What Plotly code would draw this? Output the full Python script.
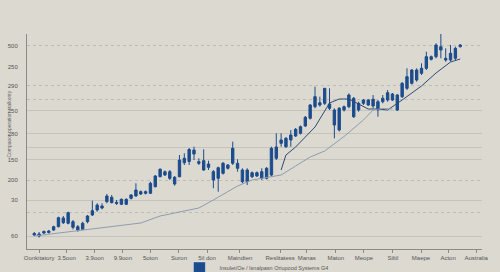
import plotly.graph_objects as go

# ---- data ----
opens = [14, 15, 16, 16.5, 19, 22.3, 31, 25.7, 27.3, 22.3, 19.7, 27.3, 34, 39, 43, 47.3, 51.7, 46.7, 44.7, 44.7,
         50.7, 53, 57.3, 55.7, 55.7, 62.3, 72.3, 77.3, 77.3, 71.7, 72.3, 86.3, 87.5, 99, 87.3, 88.3, 81.7, 77.3, 70.7, 75.7,
         84, 85.7, 85.7, 79, 67.3, 76.3, 73, 77.3, 70.7, 74, 90.7, 105.7, 110.7, 109, 113, 115.7, 123, 130.7, 142.3, 146.3,
         145.7, 145, 139, 119, 139, 142.3, 150.7, 139, 145.7, 149, 143, 147.3, 147.3, 149, 155, 154, 152.3, 160.7, 165.7, 169,
         175.7, 180.7, 192.3, 192.3, 202.3, 190.7, 189, 190.7, 202.3]
closes = [15.5, 13, 17.5, 18, 22.3, 31.3, 26.3, 36.3, 21.7, 19, 25.7, 33, 38.3, 44, 41, 53, 46.3, 45.7, 49.7, 49.7,
          54, 59, 55, 57.3, 65.7, 73, 79.7, 74, 70.7, 65, 89, 90.7, 99.5, 95, 85.7, 79, 85, 69, 81.3, 85.7,
          80.7, 100.7, 80.7, 67.3, 79, 72.3, 76.3, 70.7, 80.7, 100.7, 102, 109, 102.3, 114, 119.7, 122.3, 131.7, 144, 152.3, 144,
          160.7, 140.7, 124, 140.7, 142.3, 154, 132.3, 145.7, 149, 144, 149.7, 139, 150.7, 156.3, 149, 139, 165.7, 172.3, 179, 179,
          180.7, 192.3, 189.7, 204, 199, 189, 195.7, 200.7, 204]
highs = [17, 17, 18.5, 19, 23.3, 32.3, 33, 37.3, 29, 24, 27.3, 34, 48.3, 45.7, 45.7, 55, 54, 49, 50.5, 50.5,
         55, 65.7, 58.5, 58.5, 67.3, 74, 80.7, 78.5, 79, 73, 94, 95.7, 101, 102.3, 90.7, 99.7, 88.3, 79, 82.3, 87,
         85, 107.3, 89.7, 80.7, 80.7, 77.5, 77.5, 80.7, 82, 102.3, 115.7, 115.7, 112, 119, 121, 123.5, 133, 145, 162.3, 152.3,
         160.7, 160.7, 140.7, 142, 143.5, 155.7, 152, 147.3, 150, 150, 154, 149, 154, 159, 156, 155, 167, 180.7, 180, 180.7,
         185.7, 197.3, 193.5, 205.7, 215, 200.7, 204, 202.3, 205]
lows = [13, 11.5, 15, 15.5, 18, 21.7, 25, 24.7, 19.7, 17.3, 19, 25.7, 33, 37.3, 39.7, 45.7, 45.7, 44, 44, 44,
        49.5, 52.3, 54, 54.5, 55, 61.5, 71.7, 73, 69, 63.3, 71.7, 84, 84, 89, 84, 78.3, 79, 60.7, 57.3, 74.5,
        79.5, 84, 77.3, 65.7, 64, 71, 72, 69, 69.5, 72.3, 89, 102.3, 101, 102.3, 112, 114.5, 122, 129.5, 140.7, 142.3,
        144, 139, 110.7, 117.5, 137.5, 140.7, 131, 137.3, 144, 143, 140.7, 132.3, 145.7, 147.3, 148, 138, 151, 159, 164.5, 167.3,
        174, 179, 188.5, 190.7, 190.7, 187.3, 187.3, 189, 201.5]
sessions = list(range(len(opens)))

slow_ma_x = [0, 5, 11, 16, 22, 26, 30, 34, 37, 42, 45, 49, 51, 54, 57, 60, 64, 68, 70, 72, 74]
slow_ma_y = [13, 16, 19, 22.3, 26, 33, 37, 41, 49, 63, 69, 72, 74, 83, 92, 98, 112.5, 129, 139, 140.5, 140]

fast_ma_x = [51, 52, 54, 58, 61, 63, 65, 67, 69, 71, 73, 76, 80, 83, 86, 88]
fast_ma_y = [79, 94, 102, 122, 146, 150, 150, 145, 140, 140, 139, 149, 163, 176, 187, 190]

x_tick_pos = [1, 6.7, 12.5, 18.3, 24, 29.9, 35.7, 42.5, 50.8, 56.3, 62.3, 68.1, 74.1, 79.9, 85.5, 91.3]
x_tick_text = ["Oonkitatory", "3.5oon", "3.9oon", "9.9oon", "5oton", "Suron", "5il don", "Maindten",
               "Reslitatess", "Manas", "Maton", "Meope", "Siltil", "Maepe", "Acton", "Australia"]

y_tick_pos = [203.3, 182, 163.3, 138.3, 115.3, 89.3, 68.7, 48.7, 12.7]
y_tick_text = ["500", "250", "290", "250", "280", "150", "200", "30", "60"]

solid_grid = [138.3, 115.3, 101.7, 89.3, 48.3, 13]
dotted_grid = [203.3, 163.3, 149.7, 68.7, 36.3]

legend_name = "Insulet/Oe / Isnalpasn Oriupood Systems G4"
y_title = "Compaoor operation stalkonty"

BLUE = "#1c4c8c"
BG = "#dcd9d1"

fig = go.Figure()
fig.add_trace(go.Scatter(x=slow_ma_x, y=slow_ma_y, mode="lines", yaxis="y2",
                         line=dict(color="#8e9db0", width=1), showlegend=False, hoverinfo="skip"))
fig.add_trace(go.Candlestick(x=sessions, open=opens, high=highs, low=lows, close=closes,
                             increasing=dict(line=dict(color=BLUE, width=1), fillcolor=BLUE),
                             decreasing=dict(line=dict(color=BLUE, width=1), fillcolor=BLUE),
                             whiskerwidth=0, showlegend=False))
fig.add_trace(go.Scatter(x=fast_ma_x, y=fast_ma_y, mode="lines",
                         line=dict(color="#2c4a78", width=1), showlegend=False,
                         hoverinfo="skip"))
fig.add_trace(go.Bar(x=[None], y=[None], name=legend_name, marker=dict(color=BLUE)))

fig.update_layout(
    width=500, height=272,
    margin=dict(l=27, r=18, t=34, b=23, autoexpand=False),
    paper_bgcolor=BG, plot_bgcolor=BG,
    font=dict(family="Liberation Sans, Arial, sans-serif", size=6, color="#555555"),
    showlegend=True,
    legend=dict(orientation="h", x=0.335, xanchor="left", y=-0.088, yanchor="middle",
                font=dict(size=5.5, color="#555555"), bgcolor="rgba(0,0,0,0)",
                itemwidth=30, tracegroupgap=0, borderwidth=0),
    xaxis=dict(range=[-1.5, 92.5], tickmode="array", tickvals=x_tick_pos, ticktext=x_tick_text,
               showgrid=False, zeroline=False, showline=True, linecolor="#8a8a8a", linewidth=1,
               ticks="outside", ticklen=3, tickcolor="#8a8a8a",
               tickfont=dict(size=6, color="#555555"), rangeslider=dict(visible=False)),
    yaxis=dict(range=[0, 215], tickmode="array", tickvals=y_tick_pos, ticktext=y_tick_text,
               showgrid=False, zeroline=False, showline=True, linecolor="#8a8a8a", linewidth=1,
               ticks="", ticklabelstandoff=7, tickfont=dict(size=6, color="#555555"),
               minor=dict(tickmode="array", tickvals=solid_grid, showgrid=True,
                          gridcolor="#c6c3bc", gridwidth=1, ticks="")),
    yaxis2=dict(range=[0, 215], overlaying="y", side="left", tickmode="array",
                tickvals=dotted_grid, showticklabels=False, showgrid=True,
                gridcolor="#bfbcb5", gridwidth=1, griddash="dot", zeroline=False,
                showline=False, ticks=""),
    annotations=[dict(text=y_title, textangle=-90, xref="paper", yref="paper",
                      x=-0.05, y=0.58, showarrow=False, font=dict(size=5, color="#666666"))],
)

fig.write_html("out.html")
